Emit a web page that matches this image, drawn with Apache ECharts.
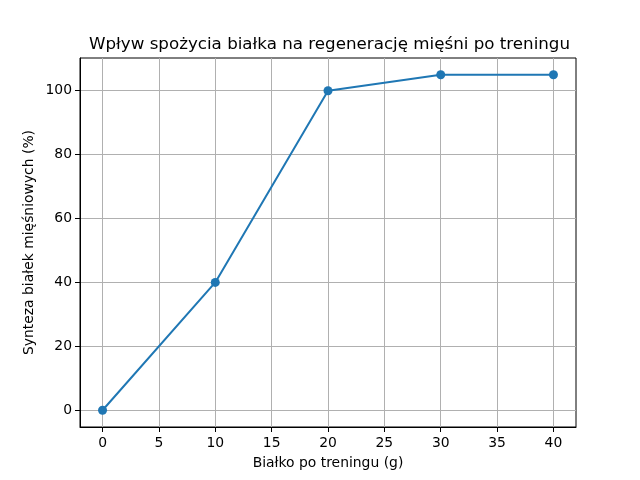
<!DOCTYPE html>
<html>
<head>
<meta charset="utf-8">
<script src="https://cdn.jsdelivr.net/npm/echarts@6/dist/echarts.min.js"></script>
<style>
  html, body { margin: 0; padding: 0; background: #fff; }
  #chart { width: 640px; height: 480px; }
</style>
</head>
<body>
<div id="chart"></div>
<script>
// protein intake after training (g) vs muscle protein synthesis (%)
const proteinGrams = [0, 10, 20, 30, 40];
const synthesisPct = [0, 40, 100, 105, 105];
const xTicks = [0, 5, 10, 15, 20, 25, 30, 35, 40];
const yTicks = [0, 20, 40, 60, 80, 100];

const chart = echarts.init(document.getElementById('chart'));
const font = 'DejaVu Sans';

chart.setOption({
    animation: false,
    backgroundColor: '#fff',
    title: {
        text: 'Wpływ spożycia białka na regenerację mięśni po treningu',
        left: 84,
        top: 31,
        textStyle: { fontFamily: font, fontSize: 16.7, fontWeight: 'normal', color: '#000' },
    },
    grid: {
        left: 80, right: 64, top: 58, bottom: 53,
        show: true, borderColor: '#000', borderWidth: 1,
    },
    xAxis: {
        type: 'value',
        min: -2, max: 42,
        name: 'Białko po treningu (g)',
        nameLocation: 'middle',
        nameGap: 29,
        nameTextStyle: { fontFamily: font, fontSize: 13.9, color: '#000' },
        axisLine: { show: true, onZero: false, lineStyle: { color: '#000', width: 1 } },
        axisTick: { show: true, length: 5, customValues: xTicks, lineStyle: { color: '#000' } },
        axisLabel: { customValues: xTicks, fontFamily: font, fontSize: 13.9, color: '#000', margin: 9 },
        splitLine: { show: true, lineStyle: { color: '#b0b0b0', width: 1 } },
    },
    yAxis: {
        type: 'value',
        min: -5.25, max: 110.25,
        name: 'Synteza białek mięśniowych (%)',
        nameLocation: 'middle',
        nameGap: 44,
        nameMoveOverlap: false,
        nameTextStyle: { fontFamily: font, fontSize: 13.9, color: '#000' },
        axisLine: { show: true, onZero: false, lineStyle: { color: '#000', width: 1 } },
        axisTick: { show: true, length: 5, customValues: yTicks, lineStyle: { color: '#000' } },
        axisLabel: { customValues: yTicks, fontFamily: font, fontSize: 13.9, color: '#000', margin: 8 },
        splitLine: { show: true, lineStyle: { color: '#b0b0b0', width: 1 } },
    },
    series: [
        {
            type: 'line',
            data: proteinGrams.map((g, i) => [g, synthesisPct[i]]),
            symbol: 'circle',
            symbolSize: 9,
            itemStyle: { color: '#1f77b4' },
            lineStyle: { color: '#1f77b4', width: 2 },
        },
    ],
});
</script>
</body>
</html>
